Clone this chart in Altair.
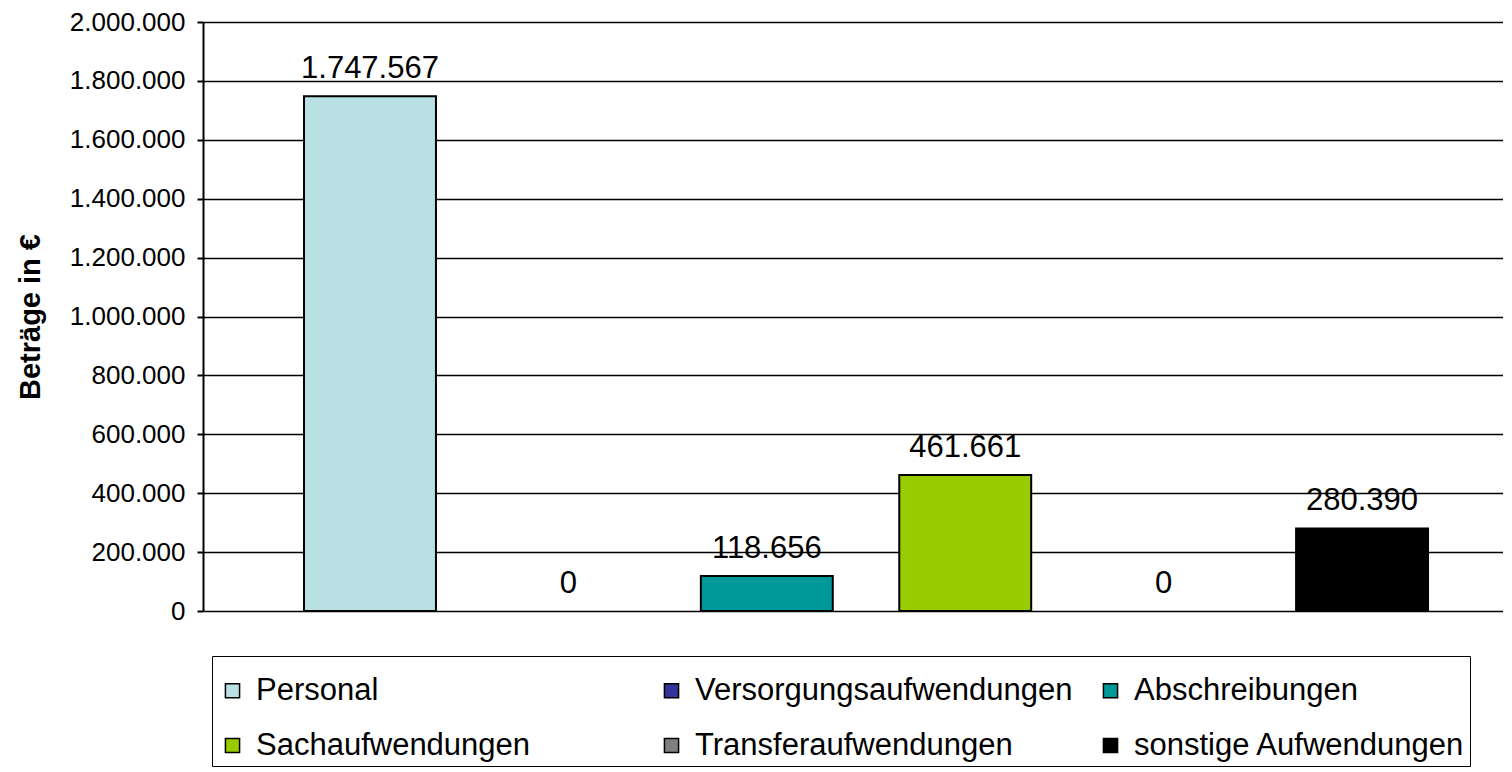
import altair as alt
import pandas as pd

categories = ["Personal", "Versorgungsaufwendungen", "Abschreibungen",
              "Sachaufwendungen", "Transferaufwendungen", "sonstige Aufwendungen"]
values = [1747567, 0, 118656, 461661, 0, 280390]
colors = ["#B9E0E3", "#333399", "#009999", "#99CC00", "#808080", "#000000"]
y_ticks = [0, 200000, 400000, 600000, 800000, 1000000, 1200000,
           1400000, 1600000, 1800000, 2000000]

df = pd.DataFrame({"cat": categories, "value": values})
df["label"] = [f"{v:,}".replace(",", ".") for v in values]

FONT = "Liberation Sans"

x = alt.X("cat:N", sort=categories, axis=None,
          scale=alt.Scale(paddingInner=0.335, paddingOuter=0.4435, align=0.574))
y = alt.Y("value:Q",
          scale=alt.Scale(domain=[0, 2000000], nice=False),
          axis=alt.Axis(values=y_ticks,
                        labelExpr="replace(format(datum.value, ',d'), regexp(',', 'g'), '.')",
                        title="Beträge in €",
                        titleFont=FONT, titleFontSize=29, titleFontWeight="bold",
                        titleColor="black",
                        titleX=-173, titleY=294.5, titleAngle=270,
                        titleAlign="center", titleBaseline="middle",
                        labelFont=FONT, labelFontSize=26, labelColor="black",
                        labelPadding=12,
                        tickColor="black", tickSize=6, tickWidth=2,
                        domainColor="black", domainWidth=2,
                        grid=True, gridColor="black", gridWidth=1.5, gridOpacity=1))

color = alt.Color("cat:N",
                  scale=alt.Scale(domain=categories, range=colors),
                  legend=alt.Legend(orient="none", legendX=9, legendY=634,
                                    direction="horizontal", columns=3, gridAlign="all",
                                    title=" ", titleFontSize=8, titlePadding=6,
                                    strokeColor="black", padding=5,
                                    labelFont=FONT, labelFontSize=31, labelColor="black",
                                    labelLimit=600, labelOffset=8,
                                    symbolType="square", symbolSize=200,
                                    symbolStrokeColor="black", symbolStrokeWidth=1.5,
                                    symbolOpacity=1,
                                    columnPadding=22, rowPadding=23))

bars = alt.Chart(df).mark_bar(stroke="black", strokeWidth=2, opacity=1).encode(
    x=x, y=y, color=color,
    strokeOpacity=alt.condition("datum.value > 0", alt.value(1), alt.value(0)))

text = alt.Chart(df).mark_text(dy=-27, baseline="middle", align="center",
                               font=FONT, fontSize=31, color="black").encode(
    x=alt.X("cat:N", sort=categories), y=alt.Y("value:Q"), text="label:N")

chart = alt.layer(bars, text).properties(
    width=1300, height=589,
    autosize=alt.AutoSizeParams(type="none"),
    padding={"left": 195, "top": 14, "right": 0, "bottom": 161},
).configure_view(stroke=None)

chart.save("out.html", embed_options={"renderer": "svg", "actions": False})
